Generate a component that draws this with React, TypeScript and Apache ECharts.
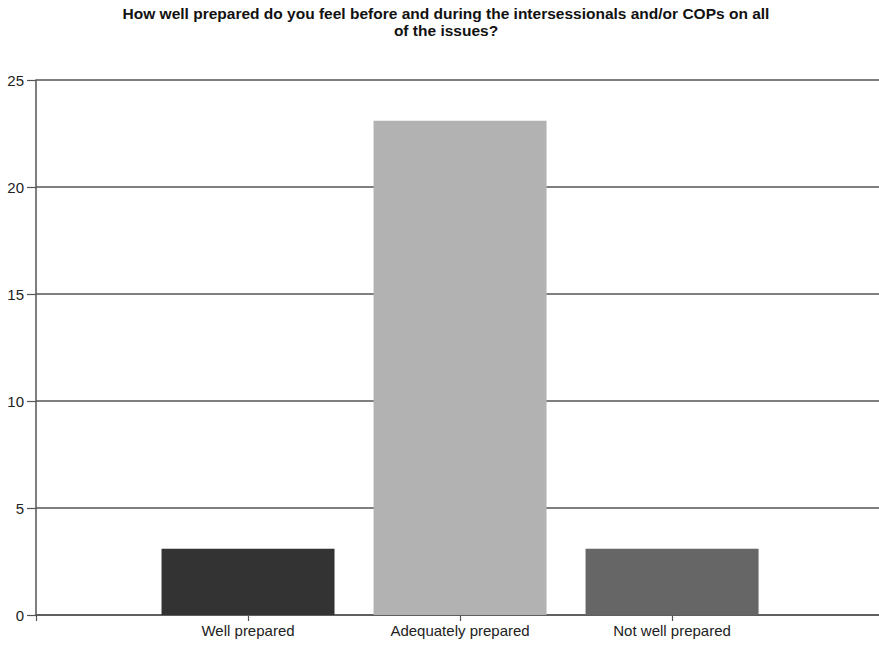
import React, { useEffect, useRef } from "react";
import * as echarts from "echarts";

const categories = ["Well prepared", "Adequately prepared", "Not well prepared"];
const values = [3.1, 23.1, 3.1];
const barColors = ["#333333", "#b2b2b2", "#666666"];
const yTicks = [0, 5, 10, 15, 20, 25];
const titleLines = [
  "How well prepared do you feel before and during the intersessionals and/or COPs on all",
  "of the issues?",
];

export default function App() {
  const ref = useRef<HTMLDivElement>(null);
  useEffect(() => {
    document.body.style.margin = "0";
    const chart = echarts.init(ref.current!, null, { renderer: "svg" });
    const seriesData = values.map((v, i) => ({ value: [i, v], itemStyle: { color: barColors[i] } }));
    chart.setOption({
      animation: false,
      backgroundColor: "#ffffff",
      title: {
        text: titleLines.join("\n"),
        left: 441,
        top: 0,
        textAlign: "center",
        textStyle: {
          fontFamily: "Liberation Sans, Arial, sans-serif",
          fontSize: 15.5,
          fontWeight: "bold",
          color: "#111111",
          lineHeight: 17,
        },
      },
      grid: { left: 36, right: 0, top: 80, bottom: 30, containLabel: false },
      xAxis: {
        type: "value",
        min: -1,
        max: 2.976,
        interval: 1,
        axisLine: { onZero: false, lineStyle: { color: "#555555", width: 1.5 } },
        axisTick: { show: true, length: 6, lineStyle: { color: "#555555", width: 1.2 } },
        axisLabel: {
          fontFamily: "Liberation Sans, Arial, sans-serif",
          fontSize: 15,
          color: "#222222",
          margin: 8,
          showMaxLabel: false,
          formatter: (v: number) => {
            const i = Math.round(v);
            return i >= 0 && i < categories.length ? categories[i] : "";
          },
        },
        splitLine: { show: false },
      },
      yAxis: {
        type: "value",
        min: yTicks[0],
        max: yTicks[yTicks.length - 1],
        interval: 5,
        axisLine: { show: true, onZero: false, lineStyle: { color: "#555555", width: 1.5 } },
        axisTick: { show: true, length: 9, lineStyle: { color: "#555555", width: 1.2 } },
        axisLabel: {
          fontFamily: "Liberation Sans, Arial, sans-serif",
          fontSize: 15,
          color: "#222222",
          margin: 12,
        },
        splitLine: { show: true, lineStyle: { color: "#555555", width: 1.5 } },
      },
      series: [
        {
          type: "bar",
          data: seriesData,
          barWidth: 173,
        },
      ],
    });
    return () => chart.dispose();
  }, []);
  return <div ref={ref} style={{ width: 879, height: 645 }} />;
}
